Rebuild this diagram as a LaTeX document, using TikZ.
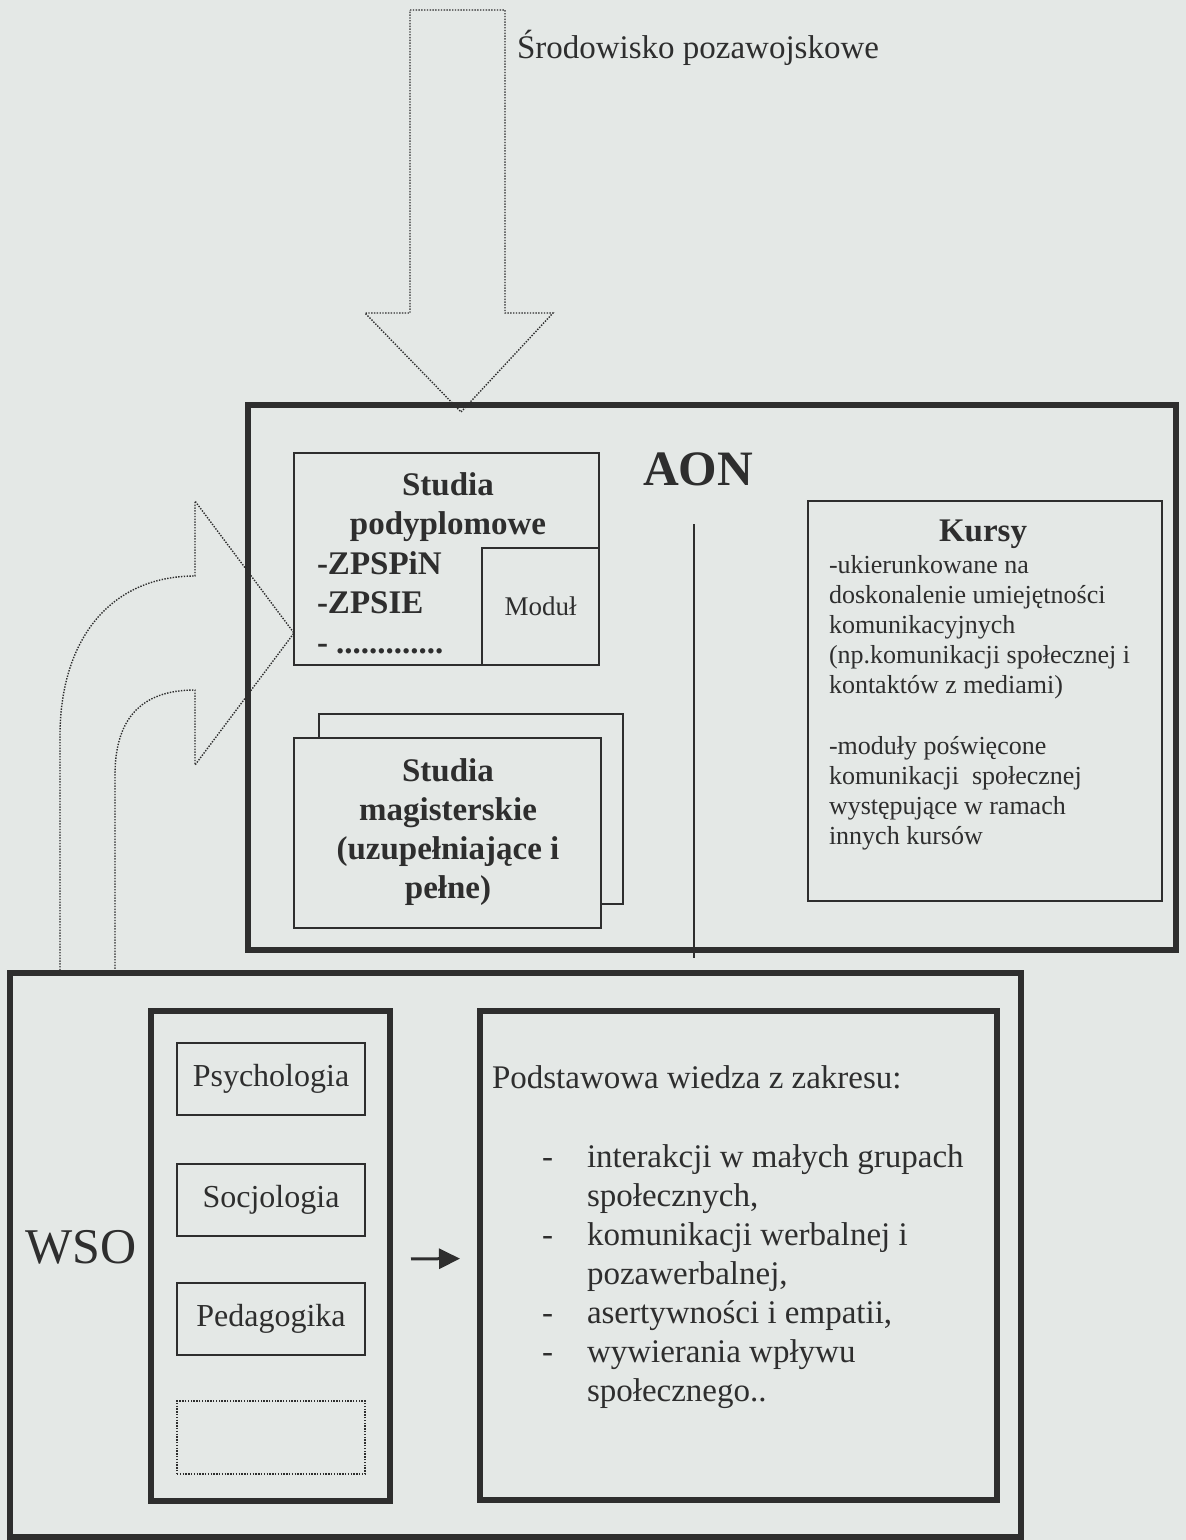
\documentclass[tikz,border=0pt]{standalone}
\usepackage{fontspec}
\setmainfont{Liberation Serif}
\usetikzlibrary{arrows.meta}
\definecolor{paper}{RGB}{228,232,230}
\definecolor{ink}{RGB}{46,46,46}
\newcommand{\fsz}[2]{\fontsize{#1}{#2}\selectfont}
\newcommand{\dotrow}{.............}
\begin{document}
\begin{tikzpicture}[x=1pt,y=-1pt,
	every node/.style={inner sep=0pt,outer sep=0pt,text=ink},
	wh/.style 2 args={minimum width=#1pt,minimum height=#2pt,anchor=north west},
	heavy/.style={draw=ink,line width=6.5pt},
	frame/.style={draw=ink,line width=2.5pt},
	dots/.style={draw=ink,line width=1.4pt,dash pattern=on 1.4pt off 1.4pt},
	txt/.style={font=\fsz{33}{39},anchor=base west},
	hdr/.style={font=\bfseries\fsz{33}{39},anchor=base},
	kurs/.style={font=\fsz{26}{30},anchor=base west}]
			\fill[paper] (0,0) rectangle (1186,1540);
			\useasboundingbox (0,0) rectangle (1186,1540);
			\begin{scope}
				\node[heavy,wh={928}{545}] (aon) at (248,405) {};
				\node[font=\bfseries\fsz{49.5}{58},anchor=base] (aonlbl) at (698,485) {AON};
				\draw[ink,line width=2.5pt] (694,524) -- (694,958);
				\node[frame,wh={305}{212}] (spod) at (294,453) {};
				\node[frame,wh={117}{117},font=\fsz{27}{32}] (modul) at (482,548) {Moduł};
				\node[hdr] (spod1) at (448,495) {Studia};
				\node[hdr] (spod2) at (448,534) {podyplomowe};
				\foreach \t [count=\i from 0] in {-ZPSPiN,-ZPSIE,- \dotrow}
					\node[hdr,anchor=base west] (spodl\i) at (317,{574+39.5*\i}) {\t};
				\node[frame,wh={304}{190}] (smagb) at (319,714) {};
				\node[frame,fill=paper,wh={307}{190}] (smag) at (294,738) {};
				\foreach \t [count=\i from 0] in {Studia,magisterskie,{(uzupełniające i},{pełne)}}
					\node[hdr] (smag\i) at (448,{781+39*\i}) {\t};
				\node[frame,wh={354}{400}] (kursy) at (808,501) {};
				\node[hdr] (kursyt) at (983,541) {Kursy};
				\foreach \t [count=\i from 0] in {-ukierunkowane na,doskonalenie umiejętności,komunikacyjnych,{(np.komunikacji społecznej i},{kontaktów z mediami)},{},-moduły poświęcone,komunikacji~ społecznej,występujące w ramach,innych kursów}
					\node[kurs] (kursy\i) at (829,{573+30.2*\i}) {\t};
			\end{scope}
			\node[txt] (env) at (517,58) {Środowisko pozawojskowe};
			\draw[dots] (410,10) -- (505,10) -- (505,313) -- (553,313) -- (461,412) -- (365,313) -- (410,313) -- cycle;
			\draw[dots] (60,973) -- (60,736) .. controls (60,640) and (110,576) .. (195,576) -- (195,501) -- (294,633)
				-- (195,765) -- (195,690) .. controls (140,690) and (115,720) .. (115,775) -- (115,973);
			\begin{scope}
				\node[heavy,wh={1011}{564}] (wso) at (10,973) {};
				\node[font=\fsz{50}{60},anchor=base west] (wsolbl) at (25,1263) {WSO};
				\node[heavy,wh={239}{490}] (subj) at (151,1011) {};
				\foreach \t/\y in {Psychologia/1043,Socjologia/1164,Pedagogika/1283}
					\node[frame,wh={188}{72},font=\fsz{32}{38}] (\t) at (177,\y) {\t};
				\node[dots,wh={188}{73}] (more) at (177,1401) {};
				\node[heavy,wh={517}{489}] (know) at (480,1011) {};
				\node[txt] (knowt) at (492,1088) {Podstawowa wiedza z zakresu:};
				\foreach \t [count=\i from 0] in {interakcji w małych grupach,{społecznych,},komunikacji werbalnej i,{pozawerbalnej,},{asertywności i empatii,},wywierania wpływu,społecznego..}
					\node[txt] (know\i) at (587,{1167+39*\i}) {\t};
				\foreach \i in {0,2,4,5}
					\node[txt] (dash\i) at (542,{1167+39*\i}) {-};
				\draw[ink,line width=3pt,-{Triangle[length=21pt,width=20pt]},shorten <=21pt,shorten >=20pt] ([yshift=-3pt]subj.east) -- ([yshift=-3pt]know.west);
			\end{scope}
\end{tikzpicture}
\end{document}
